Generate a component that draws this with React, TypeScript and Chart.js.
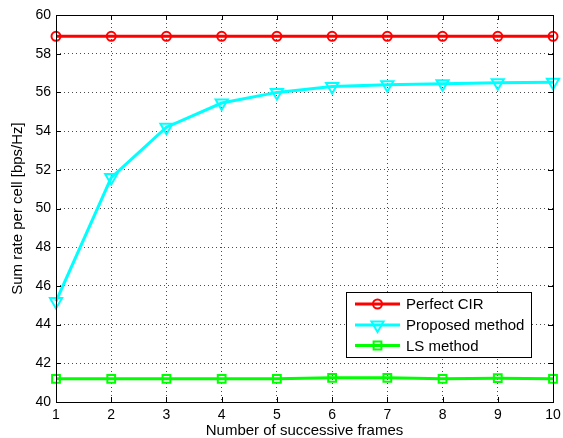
import React, { useEffect, useRef } from 'react';
import { Chart, registerables } from 'chart.js';

Chart.register(...registerables);

const frames = ['1', '2', '3', '4', '5', '6', '7', '8', '9', '10'];
const perfectCIR = [58.9, 58.9, 58.9, 58.9, 58.9, 58.9, 58.9, 58.9, 58.9, 58.9];
const proposedMethod = [45.2, 51.6, 54.2, 55.45, 56.0, 56.3, 56.4, 56.45, 56.5, 56.52];
const lsMethod = [41.2, 41.2, 41.2, 41.2, 41.2, 41.25, 41.25, 41.2, 41.23, 41.2];
const seriesNames = ['Perfect CIR', 'Proposed method', 'LS method'];
const seriesColors = ['#ff0000', '#00ffff', '#00ff00'];
const yMin = 40;
const yMax = 60;
const yStep = 2;
const xTitle = 'Number of successive frames';
const yTitle = 'Sum rate per cell [bps/Hz]';

const FONT = "'Liberation Sans', Arial, Helvetica, sans-serif";

function drawMarker(ctx: CanvasRenderingContext2D, style: string, x: number, y: number, r: number) {
  ctx.beginPath();
  if (style === 'circle') {
    ctx.arc(x, y, r, 0, Math.PI * 2);
  } else if (style === 'triangle') {
    let rad = Math.PI;
    ctx.moveTo(x + Math.sin(rad) * r, y - Math.cos(rad) * r);
    rad += (2 * Math.PI) / 3;
    ctx.lineTo(x + Math.sin(rad) * r, y - Math.cos(rad) * r);
    rad += (2 * Math.PI) / 3;
    ctx.lineTo(x + Math.sin(rad) * r, y - Math.cos(rad) * r);
    ctx.closePath();
  } else {
    const s = r * Math.SQRT1_2;
    ctx.rect(x - s, y - s, 2 * s, 2 * s);
  }
  ctx.stroke();
}

const framePlugin = {
  id: 'matlabFrame',
  afterDraw(chart: any) {
    const { ctx, chartArea } = chart;
    const { left, right, top, bottom } = chartArea;
    const xs = chart.scales.x;
    const ys = chart.scales.y;
    ctx.save();
    ctx.strokeStyle = '#000';
    ctx.lineWidth = 1;
    ctx.strokeRect(Math.round(left) + 0.5, Math.round(top) + 0.5, Math.round(right - left), Math.round(bottom - top));
    const tl = 5;
    ctx.beginPath();
    xs.ticks.forEach((_t: any, i: number) => {
      const px = Math.round(xs.getPixelForTick(i)) + 0.5;
      ctx.moveTo(px, bottom);
      ctx.lineTo(px, bottom - tl);
      ctx.moveTo(px, top);
      ctx.lineTo(px, top + tl);
    });
    ys.ticks.forEach((t: any) => {
      const py = Math.round(ys.getPixelForValue(t.value)) + 0.5;
      ctx.moveTo(left, py);
      ctx.lineTo(left + tl, py);
      ctx.moveTo(right, py);
      ctx.lineTo(right - tl, py);
    });
    ctx.stroke();

    // legend
    const bx = 346, by = 292, bw = 185, bh = 65;
    ctx.fillStyle = '#fff';
    ctx.fillRect(bx, by, bw, bh);
    ctx.strokeStyle = '#000';
    ctx.lineWidth = 1;
    ctx.strokeRect(bx + 0.5, by + 0.5, bw, bh);
    const rowY = [304, 325, 345.5];
    const styles = ['circle', 'triangle', 'rect'];
    const radii = [4.5, 7, 5.5];
    ctx.font = `15px ${FONT}`;
    ctx.textBaseline = 'middle';
    ctx.textAlign = 'left';
    chart.data.datasets.forEach((ds: any, i: number) => {
      const yy = rowY[i];
      ctx.strokeStyle = ds.borderColor;
      ctx.lineWidth = 3;
      ctx.beginPath();
      ctx.moveTo(355, yy);
      ctx.lineTo(400, yy);
      ctx.stroke();
      ctx.lineWidth = 2;
      drawMarker(ctx, styles[i], 377.5, yy, radii[i]);
      ctx.fillStyle = '#000';
      ctx.fillText(ds.label, 406, yy + 1);
    });
    ctx.restore();
  },
};

export default function App() {
  const ref = useRef<HTMLCanvasElement>(null);
  useEffect(() => {
    if (!ref.current) return;
    const mk = (label: string, data: number[], color: string, style: string, radius: number, rotation = 0) => ({
      label,
      data,
      borderColor: color,
      backgroundColor: 'transparent',
      borderWidth: 3,
      pointStyle: style,
      pointRadius: radius,
      pointRotation: rotation,
      pointBorderWidth: 2,
      pointBorderColor: color,
      pointBackgroundColor: 'transparent',
      tension: 0,
      clip: false as any,
    });
    const chart = new Chart(ref.current, {
      type: 'line',
      data: {
        labels: frames,
        datasets: [
          mk(seriesNames[0], perfectCIR, seriesColors[0], 'circle', 4.5),
          mk(seriesNames[1], proposedMethod, seriesColors[1], 'triangle', 7, 180),
          mk(seriesNames[2], lsMethod, seriesColors[2], 'rect', 5.5),
        ],
      },
      options: {
        animation: false,
        responsive: false,
        layout: { padding: { top: 15, right: 10, left: 0, bottom: 0 } },
        plugins: { legend: { display: false }, tooltip: { enabled: false } },
        scales: {
          x: {
            type: 'category',
            offset: false,
            afterFit: (s: any) => { s.height = 36; s.paddingRight = 0; s.paddingLeft = 0; },
            grid: { color: 'rgba(0,0,0,0.7)', drawTicks: false, lineWidth: 1 },
            border: { display: false, dash: [1, 3] },
            ticks: { color: '#000', padding: 5, font: { family: FONT, size: 14 }, maxRotation: 0 },
            title: { display: true, text: xTitle, color: '#000', font: { family: FONT, size: 15, lineHeight: 1 }, padding: { top: 0, bottom: 0 } },
          },
          y: {
            min: yMin,
            max: yMax,
            afterFit: (s: any) => { s.width = 56; s.paddingTop = 0; s.paddingBottom = 0; },
            grid: { color: 'rgba(0,0,0,0.7)', drawTicks: false, lineWidth: 1 },
            border: { display: false, dash: [1, 3] },
            ticks: { stepSize: yStep, color: '#000', padding: 5, font: { family: FONT, size: 14 } },
            title: { display: true, text: yTitle, color: '#000', font: { family: FONT, size: 15, lineHeight: 1 }, padding: { top: 10, bottom: 0 } },
          },
        },
      },
      plugins: [framePlugin],
    });
    return () => chart.destroy();
  }, []);
  return (
    <div style={{ position: 'fixed', left: 0, top: 0, width: 563, height: 438, background: '#fff' }}>
      <canvas ref={ref} width={563} height={438} style={{ display: 'block' }} />
    </div>
  );
}
